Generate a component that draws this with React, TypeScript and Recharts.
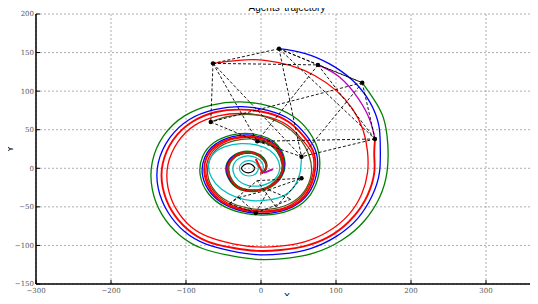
import React from 'react';
import { ComposedChart, Line, XAxis, YAxis, CartesianGrid, Label } from 'recharts';

type P = [number, number];

const xTicks = [-300, -200, -100, 0, 100, 200, 300];
const yTicks = [-150, -100, -50, 0, 50, 100, 150, 200];

const titleText = 'Agents’ trajectory';
const xLabelText = 'X';
const yLabelText = 'Y';

const greenTraj: P[] = [
  [135, 111], [150, 90], [163, 66], [169, 32], [168, -5], [158, -38], [138, -68], [108, -93], [70, -110], [30, -117],
  [-6, -118], [-42, -113], [-78, -104], [-108, -87], [-132, -60], [-145, -27], [-145, 8], [-130, 42], [-102, 68], [-66, 82],
  [-27, 86], [10, 81], [42, 68], [65, 46], [77, 20], [77, -8], [66, -34], [44, -52], [14, -60], [-18, -59],
  [-48, -50], [-70, -33], [-81, -9], [-78, 15], [-63, 33], [-40, 43], [-15, 45], [9, 39], [26, 25], [32, 7],
  [28, -10], [14, -24], [-6, -30], [-27, -28], [-41, -17], [-47, -1], [-41, 13], [-27, 21], [-10, 21], [3, 14],
  [8, 4], [5, -4], [-1, -7],
];

const blueTraj: P[] = [
  [24, 155], [58, 149], [92, 135], [122, 114], [145, 86], [157, 56], [159, 29], [158, -5], [148, -36], [129, -65],
  [101, -88], [66, -104], [28, -111], [-6, -112], [-40, -107], [-74, -98], [-102, -82], [-124, -57], [-137, -26], [-137, 7],
  [-122, 39], [-96, 63], [-62, 76], [-26, 80], [9, 75], [39, 63], [61, 42], [74, 19], [74, -8], [63, -33],
  [42, -50], [13, -58], [-17, -57], [-46, -48], [-67, -32], [-78, -9], [-75, 14], [-61, 31], [-38, 41], [-14, 43],
  [9, 37], [25, 24], [31, 6], [27, -10], [13, -23], [-6, -29], [-26, -27], [-40, -17], [-46, -1], [-40, 13],
  [-26, 20], [-10, 20], [3, 13], [7, 4], [5, -4], [-1, -7],
];

const magentaTraj: P[] = [[76, 134], [105, 118], [130, 90], [145, 63], [152, 38]];

const redThickTraj: P[] = [
  [152, 38], [151, 16], [151, -6], [142, -35], [124, -62], [97, -85], [62, -100], [26, -106], [-6, -107], [-38, -103],
  [-71, -95], [-98, -79], [-119, -55], [-131, -25], [-131, 6], [-117, 37], [-92, 60], [-60, 73], [-25, 76], [8, 72],
  [37, 60], [58, 40], [71, 18], [71, -8], [61, -32], [41, -49], [13, -56], [-17, -55], [-45, -47], [-65, -31],
  [-75, -9], [-73, 13], [-59, 30], [-37, 39], [-14, 41], [8, 36], [24, 23], [30, 6], [26, -10], [13, -23],
  [-6, -29], [-26, -27], [-39, -16], [-45, -1], [-39, 12], [-26, 20], [-10, 20], [2, 13], [7, 4], [4, -4],
  [-1, -7],
];

const redThinTraj: P[] = [
  [-64, 136], [-30, 140], [5, 140], [40, 133], [72, 120], [100, 101], [122, 77], [136, 50], [142, 22], [142, -6],
  [134, -34], [117, -60], [91, -81], [59, -95], [25, -101], [-6, -102], [-37, -98], [-67, -90], [-93, -76], [-113, -53],
  [-124, -25], [-124, 5], [-111, 34], [-88, 56], [-57, 68], [-24, 71], [8, 67], [35, 56], [55, 37], [69, 17],
  [69, -8], [59, -31], [39, -48], [12, -55], [-16, -54], [-43, -46], [-63, -30], [-73, -9], [-70, 13], [-57, 29],
  [-36, 38], [-14, 40], [8, 34], [23, 22], [29, 5], [25, -10], [12, -23], [-6, -28], [-26, -26], [-39, -16],
  [-44, -1], [-39, 12], [-26, 19], [-10, 19], [2, 13], [7, 3], [4, -4], [-1, -7],
];

const oliveTraj: P[] = [
  [-67, 60], [-45, 67], [-20, 70], [5, 67], [29, 57], [50, 40], [64, 17], [67, -8], [57, -31], [38, -46],
  [12, -53], [-16, -52], [-42, -44], [-61, -30], [-71, -9], [-68, 12], [-55, 28], [-35, 36], [-13, 38], [8, 33],
  [22, 21], [28, 5], [25, -9], [12, -22], [-6, -28], [-25, -26], [-38, -16], [-43, -1], [-38, 11], [-25, 19],
  [-10, 19], [2, 12], [7, 3], [4, -4], [-1, -7],
];

const cyanTraj: P[] = [
  [54, 15], [52, -6], [44, -24], [29, -36], [10, -41], [-12, -42], [-34, -37], [-53, -27], [-66, -12], [-70, 4],
  [-64, 18], [-48, 28], [-27, 32], [-5, 30], [12, 23], [22, 12], [25, 0], [21, -11], [11, -19], [-3, -23],
  [-18, -22], [-30, -16], [-37, -5], [-36, 6], [-29, 13], [-18, 16], [-7, 14], [1, 8], [3, 0], [0, -7],
];

const blackTraj: P[] = [
  [-5, 35], [9, 32], [21, 23], [28, 9], [28, -7], [19, -19], [4, -27], [-14, -29], [-31, -24], [-42, -13],
  [-45, 1], [-38, 13], [-24, 19], [-9, 19], [2, 13], [7, 4], [4, -4], [-1, -7],
];

const blackRing: P[] = [[-8, 0], [-11, -4], [-17, -6], [-23, -4], [-26, 0], [-23, 4], [-17, 6], [-11, 4], [-8, 0]];
const cyanRing: P[] = [[-3, 0], [-7, -7], [-16, -10], [-25, -7], [-29, 0], [-25, 7], [-16, 10], [-7, 7], [-3, 0]];

const redArrow: P[] = [[2, -6], [-7, 12]];
const magentaArrow: P[] = [[4, -6], [16, -1]];

const nodesA: P[] = [[24, 155], [-64, 136], [76, 134], [135, 111], [-67, 60], [152, 38], [-5, 35], [54, 15]];
const edgesA: [number, number][] = [
  [0, 1], [0, 2], [0, 3], [0, 7], [0, 5], [1, 2], [1, 4], [1, 6], [1, 7], [2, 3],
  [2, 5], [2, 6], [3, 5], [3, 4], [3, 7], [4, 6], [5, 6], [5, 7], [6, 7],
];

const nodesB: P[] = [[-42, -46], [-30, -38], [-5, -16], [10, -28], [-7, -58], [40, -40], [54, -13], [20, -50]];
const edgesB: [number, number][] = [
  [0, 2], [1, 3], [0, 4], [2, 6], [3, 6], [3, 5], [4, 5], [1, 4], [4, 3], [0, 1], [7, 2], [7, 6],
];

const extraDots: P[] = [[-7, -58], [54, -13]];

const pts = (arr: P[]) => arr.map(([x, y]) => ({ x, y }));

const trajectories = [
  { id: 'black', data: blackTraj, color: '#000000', w: 1.3 },
  { id: 'green', data: greenTraj, color: '#008000', w: 1.3 },
  { id: 'blue', data: blueTraj, color: '#0000ff', w: 1.3 },
  { id: 'magenta', data: magentaTraj, color: '#bf00bf', w: 1.3 },
  { id: 'redThick', data: redThickTraj, color: '#ff0000', w: 1.9 },
  { id: 'redThin', data: redThinTraj, color: '#ff0000', w: 1.3 },
  { id: 'olive', data: oliveTraj, color: '#4f5a1c', w: 1.3 },
  { id: 'cyan', data: cyanTraj, color: '#00bfbf', w: 1.3 },
  { id: 'cyanRing', data: cyanRing, color: '#00bfbf', w: 1.2 },
  { id: 'blackRing', data: blackRing, color: '#000000', w: 1.2 },
];

const fmt = (v: number) => (v < 0 ? '\u2212' + Math.abs(v) : String(v));
const tickStyle = { fontSize: 7, fill: '#555', fontFamily: 'DejaVu Serif' };
const labelFont = 'Liberation Sans';

export default function App() {
  const dashEdges = [
    ...edgesA.map(([a, b]) => [nodesA[a], nodesA[b]] as P[]),
    ...edgesB.map(([a, b]) => [nodesB[a], nodesB[b]] as P[]),
  ];
  const dots = [...nodesA, ...extraDots];
  const overlay = {
    position: 'absolute' as const,
    zIndex: 10,
    fontFamily: labelFont,
    color: '#000',
    textAlign: 'center' as const,
    whiteSpace: 'nowrap' as const,
  };
  return (
    <div style={{ position: 'relative', width: 538, height: 304, margin: -8, overflow: 'hidden', background: '#fff' }}>
      <ComposedChart width={561} height={304} margin={{ top: 14, right: 0, bottom: 0, left: 0 }}>
        <CartesianGrid stroke="#999" strokeDasharray="2 2" strokeWidth={0.8} />
        <XAxis
          dataKey="x"
          type="number"
          domain={[-300, 400]}
          ticks={xTicks}
          allowDataOverflow
          height={20}
          tickFormatter={fmt}
          tick={tickStyle}
          tickSize={-4}
          tickMargin={8}
          axisLine={{ stroke: '#000', strokeWidth: 1.5 }}
          tickLine={{ stroke: '#000' }}
        />
        <XAxis
          xAxisId="top"
          orientation="top"
          dataKey="x"
          type="number"
          domain={[-300, 400]}
          ticks={xTicks}
          allowDataOverflow
          height={0}
          tick={false}
          tickSize={-4}
          axisLine={{ stroke: '#222', strokeWidth: 1.5 }}
          tickLine={{ stroke: '#000' }}
        />
        <YAxis
          dataKey="y"
          type="number"
          domain={[-150, 200]}
          ticks={yTicks}
          allowDataOverflow
          width={36}
          tickFormatter={fmt}
          tick={tickStyle}
          tickSize={-4}
          tickMargin={6}
          axisLine={{ stroke: '#000', strokeWidth: 1.5 }}
          tickLine={{ stroke: '#000' }}
        >
          <Label
            content={() => (
              <text x={13} y={149} textAnchor="middle" fontFamily={labelFont} fontSize={9} fill="#000" transform="rotate(-90 13 149)">
                {yLabelText}
              </text>
            )}
          />
        </YAxis>
        {trajectories.map((t) => (
          <Line
            key={t.id}
            data={pts(t.data)}
            dataKey="y"
            type="natural"
            stroke={t.color}
            strokeWidth={t.w}
            dot={false}
            activeDot={false}
            isAnimationActive={false}
          />
        ))}
        <Line key="redArrow" data={pts(redArrow)} dataKey="y" type="linear" stroke="#ff0000" strokeWidth={2} dot={false} activeDot={false} isAnimationActive={false} />
        <Line key="magArrow" data={pts(magentaArrow)} dataKey="y" type="linear" stroke="#bf00bf" strokeWidth={2} dot={false} activeDot={false} isAnimationActive={false} />
        {dashEdges.map((e, i) => (
          <Line
            key={'e' + i}
            data={pts(e)}
            dataKey="y"
            type="linear"
            stroke="#000"
            strokeWidth={0.9}
            strokeDasharray="3 2"
            dot={false}
            activeDot={false}
            isAnimationActive={false}
          />
        ))}
        <Line
          key="dots"
          data={pts(dots)}
          dataKey="y"
          stroke="none"
          dot={{ r: 2.2, fill: '#000', stroke: 'none' }}
          activeDot={false}
          isAnimationActive={false}
        />
      </ComposedChart>
      <div style={{ ...overlay, left: 0, width: 574, top: 1, fontSize: 10, lineHeight: '13px' }}>{titleText}</div>
      <div style={{ ...overlay, left: 0, width: 574, top: 291, fontSize: 9, lineHeight: '11px' }}>{xLabelText}</div>
    </div>
  );
}
